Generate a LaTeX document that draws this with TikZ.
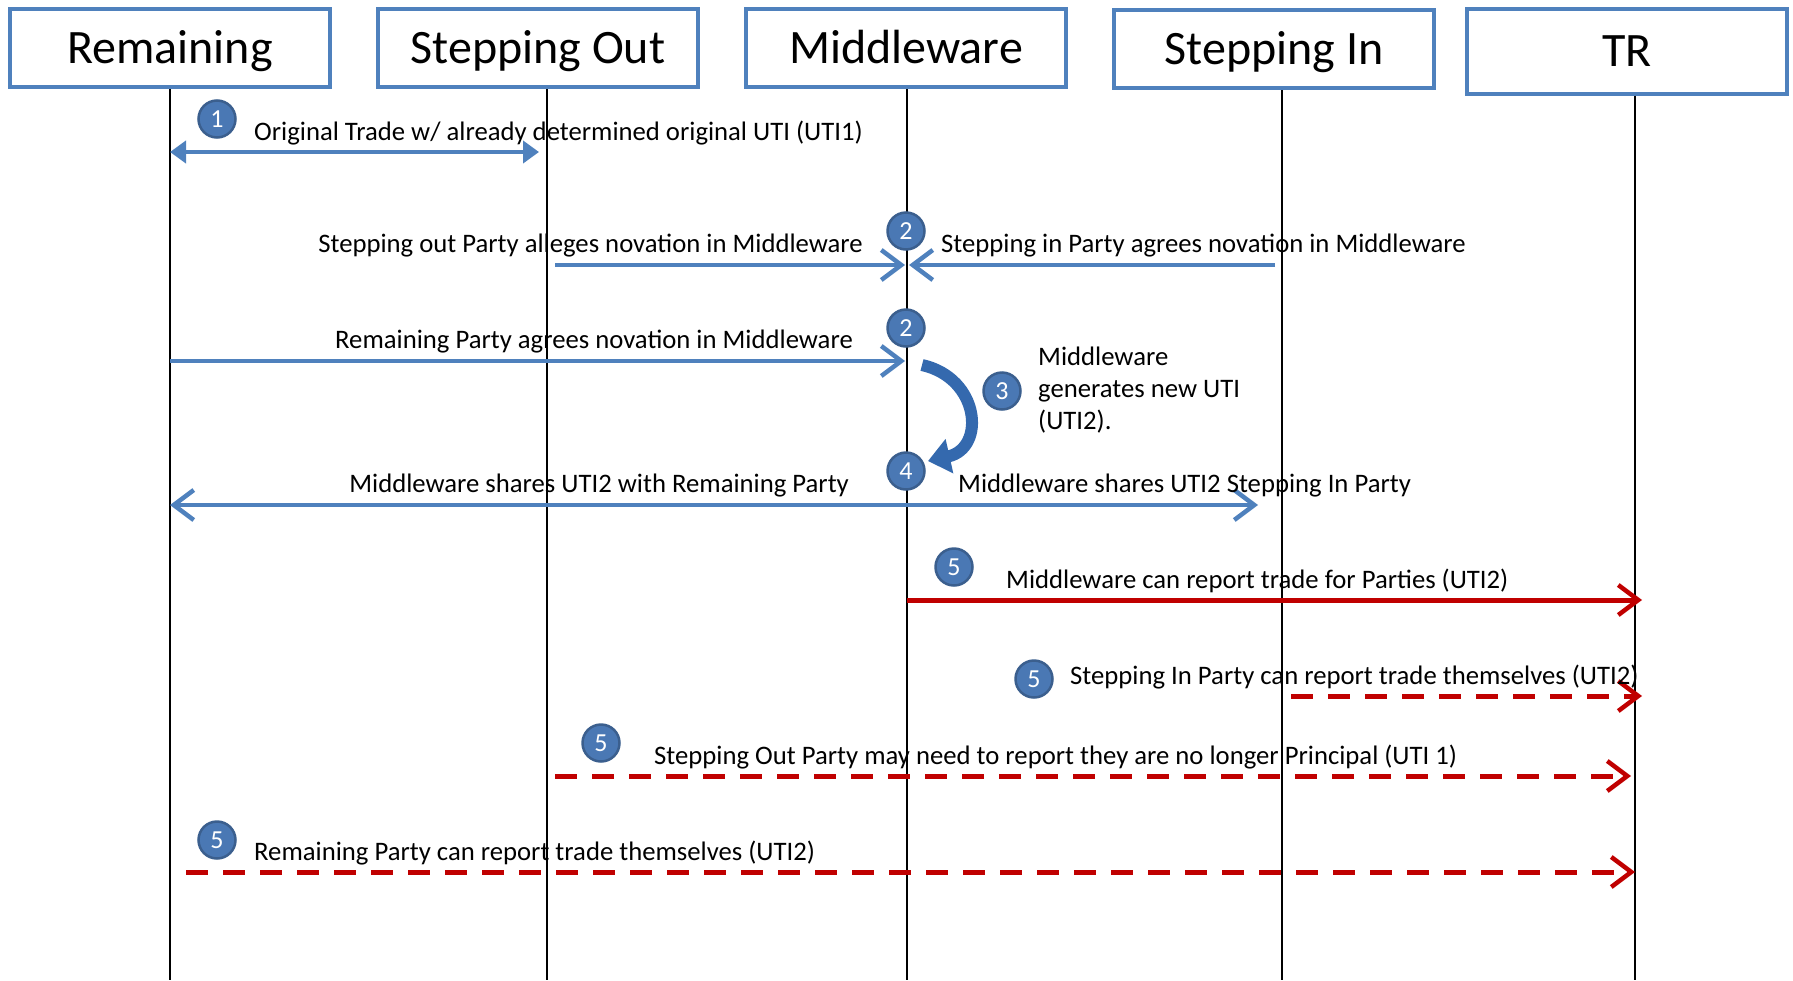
\documentclass[tikz,border=0pt]{standalone}
\usepackage{fontspec}
\setmainfont{Carlito}
\usetikzlibrary{arrows.meta}
\definecolor{boxblue}{HTML}{4F81BD}
\definecolor{numblue}{HTML}{4A78B4}
\definecolor{numedge}{HTML}{3B5F8E}
\definecolor{curveblue}{HTML}{3469AE}
\definecolor{repred}{HTML}{C00000}
\tikzset{
  party/.style={draw=boxblue,line width=4pt,minimum width=320pt,minimum height=78pt,
    inner sep=0pt,text height=31pt,text depth=0pt,font=\fontsize{48}{50}\selectfont},
  lifeline/.style={line width=1.6pt},
  msg/.style={draw=boxblue,line width=4.8pt},
  report/.style={draw=repred,line width=5pt},
  barb/.tip={Straight Barb[length=20pt,width=30pt,line width=4.5pt]},
  num/.style={circle,fill=numblue,draw=numedge,line width=2.5pt,minimum size=37pt,
    inner sep=0pt,text=white,font=\fontsize{26}{26}\selectfont},
  label/.style={inner sep=0pt,font=\fontsize{26.7}{32}\selectfont}
}
\begin{document}
\begin{tikzpicture}[x=1pt,y=-1pt]
    \useasboundingbox (0,0) rectangle (1793,980);
    % parti e linee di vita
    \node[party] (rem) at (170,48) {Remaining};
    \node[party] (sout) at (538,48) {Stepping Out};
    \node[party] (mid) at (906,48) {Middleware};
    \node[party] (sin) at (1274,49) {Stepping In};
    \node[party,minimum height=85pt] (tr) at (1627,51) {TR};
    \draw[lifeline] (rem.south -| 170,0) -- (170,980); %Remaining
    \draw[lifeline] (sout.south -| 547,0) -- (547,980); %Stepping Out
    \draw[lifeline] (mid.south -| 907,0) -- (907,980); %Middleware
    \draw[lifeline] (sin.south -| 1282,0) -- (1282,980); %Stepping In
    \draw[lifeline] (tr.south -| 1635,0) -- (1635,980); %TR
    % passo 1
    \coordinate (m1a) at (170,152);
    \coordinate (m1b) at (539,152);
    \draw[msg,{Triangle[length=16pt,width=22pt]}-{Triangle[length=16pt,width=22pt]}] (m1a) -- (m1b);
    \node[num] (n1) at (217,119) {1};
    \node[label,anchor=base west] (t1) at (254,140) {Original Trade w/ already determined original UTI (UTI1)};
    % passo 2
    \coordinate (m2a) at (555,265);
    \coordinate (m2b) at (905,265);
    \coordinate (m2c) at (1275,265);
    \coordinate (m2d) at (909,265);
    \draw[msg,-barb] (m2a) -- (m2b);
    \draw[msg,-barb] (m2c) -- (m2d);
    \node[num] (n2a) at (906,231) {2};
    \node[label,anchor=base east] (t2a) at (863,252) {Stepping out Party alleges novation in Middleware};
    \node[label,anchor=base west] (t2b) at (941,252) {Stepping in Party agrees novation in Middleware};
    \coordinate (m2e) at (170,361);
    \coordinate (m2f) at (905,361);
    \draw[msg,-barb] (m2e) -- (m2f);
    \node[num] (n2b) at (906,328) {2};
    \node[label,anchor=base east] (t2c) at (853,348) {Remaining Party agrees novation in Middleware};
    % passo 3
    \coordinate (m3a) at (922,365);
    \coordinate (m3b) at (928,461);
    \draw[draw=curveblue,line width=12pt,-{Triangle[length=22pt,width=34pt]}]
      (m3a) .. controls (980,378) and (986,448) .. (m3b);
    \node[num] (n3) at (1002,391) {3};
    \node[label,anchor=north west,align=left] (t3) at (1038,347) {Middleware\\generates new UTI\\(UTI2).};
    % passo 4
    \coordinate (m4a) at (170,505);
    \coordinate (m4b) at (1258,505);
    \draw[msg,barb-barb] (m4a) -- (m4b);
    \node[num] (n4) at (906,471) {4};
    \node[label,anchor=base east] (t4a) at (849,492) {Middleware shares UTI2 with Remaining Party};
    \node[label,anchor=base west] (t4b) at (958,492) {Middleware shares UTI2 Stepping In Party};
    % passo 5
    \coordinate (m5a) at (907,600);
    \coordinate (m5b) at (1642,600);
    \draw[report,-barb] (m5a) -- (m5b);
    \node[num] (n5a) at (954,567) {5};
    \node[label,anchor=base west] (t5a) at (1006,588) {Middleware can report trade for Parties (UTI2)};
    \coordinate (m5c) at (1291,696);
    \coordinate (m5d) at (1642,696);
    \draw[report,dash pattern=on 22pt off 15pt,-barb] (m5c) -- (m5d);
    \node[num] (n5b) at (1034,679) {5};
    \node[label,anchor=base west] (t5b) at (1070,684) {Stepping In Party can report trade themselves (UTI2)};
    \coordinate (m5e) at (555,776);
    \coordinate (m5f) at (1631,776);
    \draw[report,dash pattern=on 22pt off 15pt,-barb] (m5e) -- (m5f);
    \node[num] (n5c) at (601,743) {5};
    \node[label,anchor=base west] (t5c) at (654,764) {Stepping Out Party may need to report they are no longer Principal (UTI 1)};
    \coordinate (m5g) at (186,872);
    \coordinate (m5h) at (1635,872);
    \draw[report,dash pattern=on 22pt off 15pt,-barb] (m5g) -- (m5h);
    \node[num] (n5d) at (217,840) {5};
    \node[label,anchor=base west] (t5d) at (254,860) {Remaining Party can report trade themselves (UTI2)};
  \end{tikzpicture}
\end{document}
